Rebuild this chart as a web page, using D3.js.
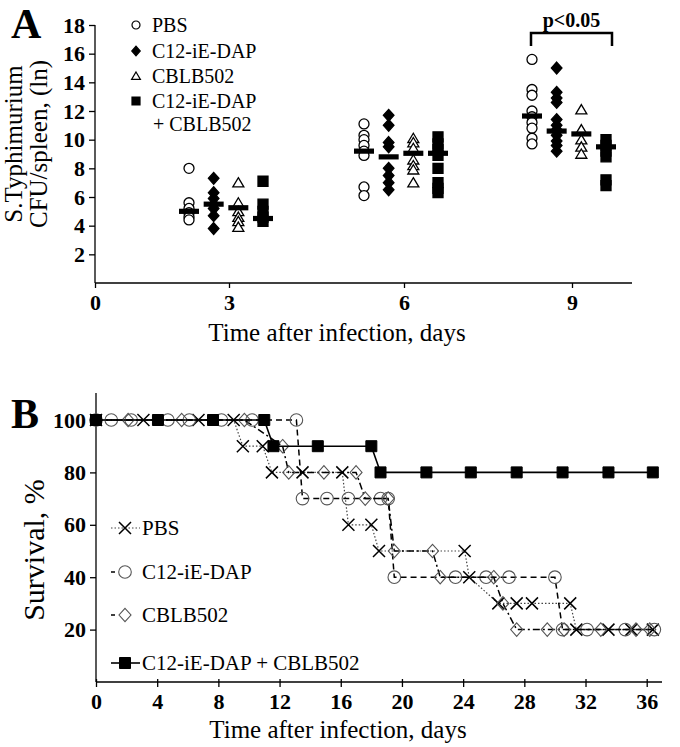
<!DOCTYPE html>
<html><head><meta charset="utf-8">
<script src="https://cdn.jsdelivr.net/npm/d3@7"></script>
<style>
body{margin:0;background:#fff;}
svg{display:block;font-family:"Liberation Serif","Times New Roman",serif;}
</style></head>
<body><svg id="c" width="680" height="747"></svg>
<script>
// ---------- Panel A data ----------
const groupNames = ["PBS", "C12-iE-DAP", "CBLB502", "C12-iE-DAP + CBLB502"];
const daysA = [3, 6, 9];
const pbsCFU   = [[8.0,5.6,5.2,4.9,4.6,4.4],[11.1,10.3,10.0,9.6,9.2,8.9,6.7,6.1],[15.6,13.5,13.1,12.0,11.6,11.2,10.8,10.1,9.7]];
const dapCFU   = [[7.3,6.3,5.9,5.5,5.2,4.7,3.8],[11.7,11.0,9.8,9.5,8.0,7.5,7.0,6.5],[15.0,13.3,12.9,12.6,11.4,11.0,10.7,10.3,9.9,9.6,9.2]];
const cblbCFU  = [[7.0,5.6,5.0,4.6,4.3,3.9],[10.1,9.8,9.4,8.6,8.2,7.9,7.0],[12.1,10.7,10.0,9.5,9.0]];
const comboCFU = [[7.1,5.5,5.0,4.6,4.3],[10.2,9.7,9.3,8.9,8.0,7.0,6.6,6.3],[10.0,9.6,9.2,8.8,7.2,6.8]];
const pbsMean = [5.0, 9.2, 11.65];
const dapMean = [5.5, 8.8, 10.6];
const cblbMean = [5.25, 9.05, 10.4];
const comboMean = [4.5, 9.05, 9.5];
const yTicksA = [2,4,6,8,10,12,14,16,18];
const xTicksA = [0,3,6,9];

// ---------- Panel B data ----------
const survNames = ["PBS", "C12-iE-DAP", "CBLB502", "C12-iE-DAP + CBLB502"];
const pbsDays  = [0,3.1,6.7,9.0,9.6,10.9,11.5,13.5,16.1,16.5,18.0,18.5,24.1,24.4,26.3,27.5,28.5,31.0,31.4,33.5,35.0,36.4];
const pbsSurv  = [100,100,100,100,90,90,80,80,80,60,60,50,50,40,30,30,30,30,20,20,20,20];
const dapDays  = [0,1.0,2.3,4.7,6.1,8.2,10.2,13.1,13.5,15.1,16.5,18.6,19.1,19.5,23.5,25.5,27.0,30.0,30.5,32.1,34.6,36.5];
const dapSurv  = [100,100,100,100,100,100,100,100,70,70,70,70,70,40,40,40,40,40,20,20,20,20];
const cblbDays = [0,2.1,5.6,9.7,12.2,12.6,14.9,17.0,17.6,19.1,19.5,22.0,22.5,26.0,26.6,27.5,29.5,30.6,33.0,35.3,36.2];
const cblbSurv = [100,100,100,100,90,80,80,80,70,70,50,50,40,40,30,20,20,20,20,20,20];
const comboDays = [0,4.05,7.65,11.0,11.6,14.5,18.0,18.6,21.6,24.5,27.5,30.5,33.5,36.4];
const comboSurv = [100,100,100,100,90,90,90,80,80,80,80,80,80,80];
const xTicksB = [0,4,8,12,16,20,24,28,32,36];
const yTicksB = [20,40,60,80,100];

const svg = d3.select("#c");
const FONT = '"Liberation Serif","Times New Roman",serif';

function mk(shape, s) {
  if (shape === "circle") return d3.symbol(d3.symbolCircle, Math.PI*s*s)();
  if (shape === "square") return d3.symbol(d3.symbolSquare, 4*s*s)();
  if (shape === "diamond") { const w=s, h=s*1.12; return `M0,${-h}L${w},0L0,${h}L${-w},0Z`; }
  if (shape === "triangle") { const w=s*1.1, h=s; return `M0,${-h}L${w},${h*0.85}L${-w},${h*0.85}Z`; }
  if (shape === "x") return `M${-s},${-s}L${s},${s}M${-s},${s}L${s},${-s}`;
}

// ================= PANEL A =================
const xA = d3.scaleLinear().domain([0,3,6,9,10.1]).range([95,229,404,572,632]);
const yA = d3.scaleLinear().domain([0,18]).range([283,25]);
const offA = d3.scalePoint().domain(groupNames).range([-40,34]);

const gA = svg.append("g");
const axYA = gA.append("g").attr("transform","translate(95,0)")
  .call(d3.axisLeft(yA).tickValues(yTicksA).tickSize(6).tickPadding(4));
const axXA = gA.append("g").attr("transform","translate(0,283)")
  .call(d3.axisBottom(xA).tickValues(xTicksA).tickSize(5).tickPadding(6).tickFormat(d3.format("d")));
[axYA, axXA].forEach(a => {
  a.selectAll("path.domain").attr("stroke","#000").attr("stroke-width",1.3);
  a.selectAll("line").attr("stroke","#000").attr("stroke-width",1.3);
  a.selectAll("text").attr("font-family",FONT).attr("font-size",22).attr("font-weight","bold").attr("fill","#000");
});
axYA.select("path.domain").attr("d","M0,283V25");
axXA.select("path.domain").attr("d",`M95,0H632`);

const seriesA = [
  {name:groupNames[0], vals:pbsCFU, mean:pbsMean, shape:"circle", fill:"#fff", stroke:"#000", s:5},
  {name:groupNames[1], vals:dapCFU, mean:dapMean, shape:"diamond", fill:"#000", stroke:"#000", s:5.3},
  {name:groupNames[2], vals:cblbCFU, mean:cblbMean, shape:"triangle", fill:"#fff", stroke:"#000", s:5},
  {name:groupNames[3], vals:comboCFU, mean:comboMean, shape:"square", fill:"#000", stroke:"#000", s:5}
];
seriesA.forEach(se => {
  daysA.forEach((d,i) => {
    const cx = xA(d) + offA(se.name);
    gA.selectAll(null).data(se.vals[i]).enter().append("path")
      .attr("d", mk(se.shape, se.s))
      .attr("transform", v => `translate(${cx},${yA(v)})`)
      .attr("fill", se.fill).attr("stroke", se.stroke).attr("stroke-width",1.3);
    gA.append("rect").attr("x", cx-10).attr("y", yA(se.mean[i])-2.6)
      .attr("width",20).attr("height",5.2).attr("fill","#000");
  });
});

const bx1 = xA(9)+offA(groupNames[0]) - 1, bx2 = xA(9)+offA(groupNames[3]) + 6;
gA.append("path").attr("d",`M${bx1},46V33H${bx2}V46`).attr("fill","none").attr("stroke","#000").attr("stroke-width",2.5);
gA.append("text").attr("x",(bx1+bx2)/2).attr("y",27).attr("text-anchor","middle")
  .attr("font-family",FONT).attr("font-size",20).attr("font-weight","bold").text("p<0.05");

const legA = gA.append("g");
const legRowsA = [25,51,76,101];
seriesA.forEach((se,i) => {
  legA.append("path").attr("d", mk(se.shape, se.s*0.8)).attr("transform",`translate(136,${legRowsA[i]})`)
    .attr("fill", se.fill).attr("stroke","#000").attr("stroke-width",1.2);
});
const legTextsA = ["PBS","C12-iE-DAP","CBLB502","C12-iE-DAP"];
legTextsA.forEach((t,i) => legA.append("text").attr("x",152).attr("y",legRowsA[i]+7)
  .attr("font-family",FONT).attr("font-size",20).text(t));
legA.append("text").attr("x",153).attr("y",131).attr("font-family",FONT).attr("font-size",20).text("+ CBLB502");

gA.append("text").attr("x",337).attr("y",341).attr("text-anchor","middle")
  .attr("font-family",FONT).attr("font-size",25).text("Time after infection, days");
const yt = gA.append("text").attr("transform","translate(0,144) rotate(-90)").attr("text-anchor","middle")
  .attr("font-family",FONT).attr("font-size",25);
yt.append("tspan").attr("x",0).attr("y",22).text("S.Typhimurium");
yt.append("tspan").attr("x",0).attr("y",47).text("CFU/spleen, (ln)");
svg.append("text").attr("x",11).attr("y",38).attr("font-family",FONT).attr("font-size",42).attr("font-weight","bold").text("A");

// ================= PANEL B =================
const xB = d3.scaleLinear().domain([0,37]).range([96,662]);
const yB = d3.scaleLinear().domain([0,100]).range([682,420]);
const gB = svg.append("g");
const axYB = gB.append("g").attr("transform","translate(96,0)")
  .call(d3.axisLeft(yB).tickValues(yTicksB).tickSize(6).tickPadding(4));
const axXB = gB.append("g").attr("transform","translate(0,682)")
  .call(d3.axisBottom(xB).tickValues(xTicksB).tickSize(5).tickPadding(6));
[axYB, axXB].forEach(a => {
  a.selectAll("path.domain").attr("stroke","#000").attr("stroke-width",1.3);
  a.selectAll("line").attr("stroke","#000").attr("stroke-width",1.3);
  a.selectAll("text").attr("font-family",FONT).attr("font-size",22).attr("font-weight","bold").attr("fill","#000");
});
axYB.select("path.domain").attr("d","M0,682V393");
axXB.select("path.domain").attr("d","M96,0H662");
axXB.selectAll(".tick line").attr("y1",-3);

const seriesB = [
  {name:survNames[0], days:pbsDays, surv:pbsSurv, shape:"x", dash:"1.5,2", lw:1.2, lc:"#444", fill:"none", stroke:"#000", ms:6, mw:1.5},
  {name:survNames[1], days:dapDays, surv:dapSurv, shape:"circle", dash:"6,4", lw:1.5, lc:"#000", fill:"none", stroke:"#555", ms:6.3, mw:1.1},
  {name:survNames[2], days:cblbDays, surv:cblbSurv, shape:"diamond", dash:"7,3,2,3", lw:1.5, lc:"#000", fill:"none", stroke:"#555", ms:6, mw:1.1},
  {name:survNames[3], days:comboDays, surv:comboSurv, shape:"square", dash:null, lw:1.6, lc:"#000", fill:"#000", stroke:"#000", ms:5.5, mw:1}
];
const line = d3.line().x(d => xB(d[0])).y(d => yB(d[1]));
seriesB.forEach(se => {
  const pts = se.days.map((d,i) => [d, se.surv[i]]);
  gB.append("path").attr("d", line(pts)).attr("fill","none").attr("stroke", se.lc)
    .attr("stroke-width", se.lw).attr("stroke-dasharray", se.dash);
  gB.selectAll(null).data(pts).enter().append("path")
    .attr("d", mk(se.shape, se.ms))
    .attr("transform", d => `translate(${xB(d[0])},${yB(d[1])})`)
    .attr("fill", se.fill).attr("stroke", se.stroke).attr("stroke-width", se.mw);
});

const legRowsB = [528,572,615,663];
seriesB.forEach((se,i) => {
  const y = legRowsB[i];
  gB.append("line").attr("x1",111).attr("x2",140).attr("y1",y).attr("y2",y)
    .attr("stroke",se.lc).attr("stroke-width",se.lw).attr("stroke-dasharray", se.dash ? (i===0?"1.5,2":"4,12") : null);
  gB.append("path").attr("d", mk(se.shape, se.ms)).attr("transform",`translate(125,${y})`)
    .attr("fill", se.fill==="none" ? "#fff" : se.fill).attr("stroke", se.stroke).attr("stroke-width", se.mw);
  gB.append("text").attr("x",142).attr("y",y+7).attr("font-family",FONT).attr("font-size",21).text(se.name);
});

gB.append("text").attr("x",338).attr("y",738).attr("text-anchor","middle")
  .attr("font-family",FONT).attr("font-size",25).text("Time after infection, days");
gB.append("text").attr("transform","translate(44,550) rotate(-90)").attr("text-anchor","middle")
  .attr("font-family",FONT).attr("font-size",30).text("Survival, %");
svg.append("text").attr("x",11).attr("y",428).attr("font-family",FONT).attr("font-size",42).attr("font-weight","bold").text("B");
</script></body></html>
